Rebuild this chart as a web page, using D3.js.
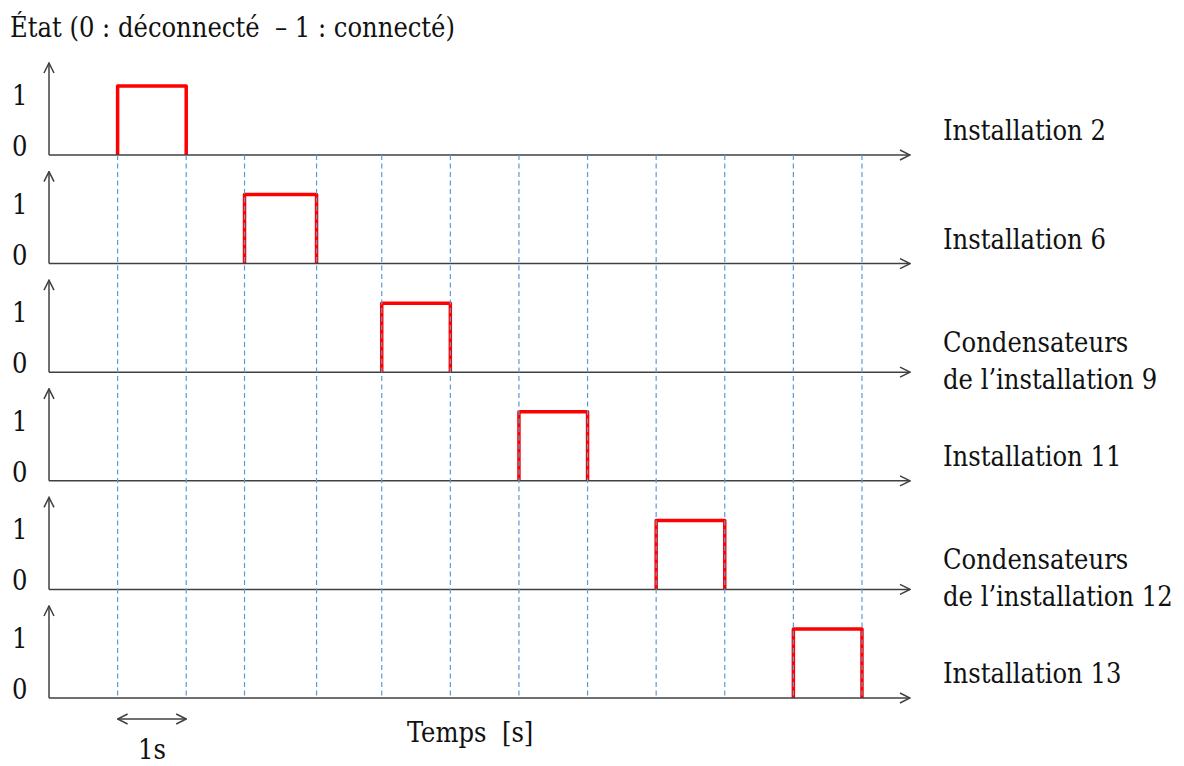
<!DOCTYPE html>
<html>
<head>
<meta charset="utf-8">
<script src="https://cdn.jsdelivr.net/npm/d3@7"></script>
<style>
  body { margin: 0; background: #fff; }
  svg { display: block; }
</style>
</head>
<body>
<div id="chart"></div>
<script>
// Chart values
const panelLabels = [
  ["Installation 2"],
  ["Installation 6"],
  ["Condensateurs", "de l’installation 9"],
  ["Installation 11"],
  ["Condensateurs", "de l’installation 12"],
  ["Installation 13"]
];
const onTimes  = [1.0, 2.85, 4.85, 6.85, 8.85, 10.85];   // s, switch to 1
const offTimes = [2.0, 3.9, 5.85, 7.85, 9.85, 11.85];    // s, back to 0
const stateTicks = [0, 1];
const titleText = "État (0 : déconnecté  – 1 : connecté)";
const xLabel = "Temps  [s]";
const scaleLabel = "1s";
const scaleSpan = [1.0, 2.0];

const width = 1184, height = 766;
const axisColor = "#404040";
const gridColor = "#5b9bd5";
const fontSize = 27;

const svg = d3.select("#chart").append("svg")
  .attr("width", width)
  .attr("height", height)
  .style("font-family", "'DejaVu Serif Condensed', 'DejaVu Serif', serif")
  .style("font-stretch", "condensed");

const defs = svg.append("defs");
function marker(id, orient) {
  defs.append("marker")
    .attr("id", id)
    .attr("viewBox", "0 0 12 12")
    .attr("refX", 11).attr("refY", 6)
    .attr("markerWidth", 12).attr("markerHeight", 12)
    .attr("markerUnits", "userSpaceOnUse")
    .attr("orient", orient)
    .append("path")
    .attr("d", "M1,1 L11,6 L1,11")
    .attr("fill", "none")
    .attr("stroke", axisColor)
    .attr("stroke-width", 1.5);
}
marker("arrow", "auto");
marker("arrow2", "auto-start-reverse");

// scales
const x = d3.scaleLinear().domain([0, 12.55]).range([49, 910]);
const panelY = d3.scalePoint().domain(d3.range(panelLabels.length)).range([155, 698]);
const level = d3.scaleLinear().domain([0, 1]).range([0, -69]);
const axisTop = -92;

// title
svg.append("text")
  .attr("x", 10).attr("y", 37)
  .attr("font-size", fontSize)
  .attr("fill", "#111")
  .attr("xml:space", "preserve")
  .style("white-space", "pre")
  .text(titleText);

const panels = svg.selectAll("g.panel")
  .data(panelLabels)
  .join("g")
  .attr("class", "panel")
  .attr("transform", (d, i) => `translate(0,${panelY(i)})`);

// red pulses
panels.append("path")
  .attr("fill", "none")
  .attr("stroke", "#ff0000")
  .attr("stroke-width", 3.5)
  .attr("stroke-linejoin", "round")
  .attr("d", (d, i) => d3.line()([
    [x(onTimes[i]), level(0)],
    [x(onTimes[i]), level(1)],
    [x(offTimes[i]), level(1)],
    [x(offTimes[i]), level(0)]
  ]));

// dashed time markers
const gridTimes = onTimes.flatMap((t, i) => [t, offTimes[i]]);
svg.append("g")
  .selectAll("line")
  .data(gridTimes)
  .join("line")
  .attr("x1", d => x(d)).attr("x2", d => x(d))
  .attr("y1", panelY(0)).attr("y2", panelY(panelLabels.length - 1))
  .attr("stroke", gridColor)
  .attr("stroke-width", 1.2)
  .attr("stroke-dasharray", "5,3.5");

// axes
panels.append("line")
  .attr("x1", x(0)).attr("x2", x.range()[1])
  .attr("y1", 0).attr("y2", 0)
  .attr("stroke", axisColor).attr("stroke-width", 1.5)
  .attr("marker-end", "url(#arrow)");

panels.append("line")
  .attr("x1", x(0)).attr("x2", x(0))
  .attr("y1", 0).attr("y2", axisTop)
  .attr("stroke", axisColor).attr("stroke-width", 1.5)
  .attr("marker-end", "url(#arrow)");

// state tick labels
panels.selectAll("text.tick")
  .data(stateTicks)
  .join("text")
  .attr("class", "tick")
  .attr("x", 12)
  .attr("y", d => d === 0 ? 1 : level(1) + 19)
  .attr("font-size", fontSize)
  .attr("fill", "#111")
  .text(d => d);

// right-hand labels
panels.each(function(lines) {
  const g = d3.select(this);
  const n = lines.length;
  g.selectAll("text.lbl")
    .data(lines)
    .join("text")
    .attr("class", "lbl")
    .attr("x", 943)
    .attr("y", (d, j) => n === 1 ? -24 : -30 + j * 37)
    .attr("dy", "0.35em")
    .attr("font-size", fontSize)
    .attr("fill", "#111")
    .text(d => d);
});

// 1 s scale indicator
const yLast = panelY(panelLabels.length - 1);
svg.append("line")
  .attr("x1", x(scaleSpan[0])).attr("x2", x(scaleSpan[1]))
  .attr("y1", yLast + 21).attr("y2", yLast + 21)
  .attr("stroke", axisColor).attr("stroke-width", 1.5)
  .attr("marker-start", "url(#arrow2)")
  .attr("marker-end", "url(#arrow)");

svg.append("text")
  .attr("x", (x(scaleSpan[0]) + x(scaleSpan[1])) / 2)
  .attr("y", yLast + 61)
  .attr("text-anchor", "middle")
  .attr("font-size", fontSize)
  .attr("fill", "#111")
  .text(scaleLabel);

svg.append("text")
  .attr("x", 407)
  .attr("y", yLast + 44)
  .attr("font-size", fontSize)
  .attr("fill", "#111")
  .attr("xml:space", "preserve")
  .style("white-space", "pre")
  .text(xLabel);
</script>
</body>
</html>
